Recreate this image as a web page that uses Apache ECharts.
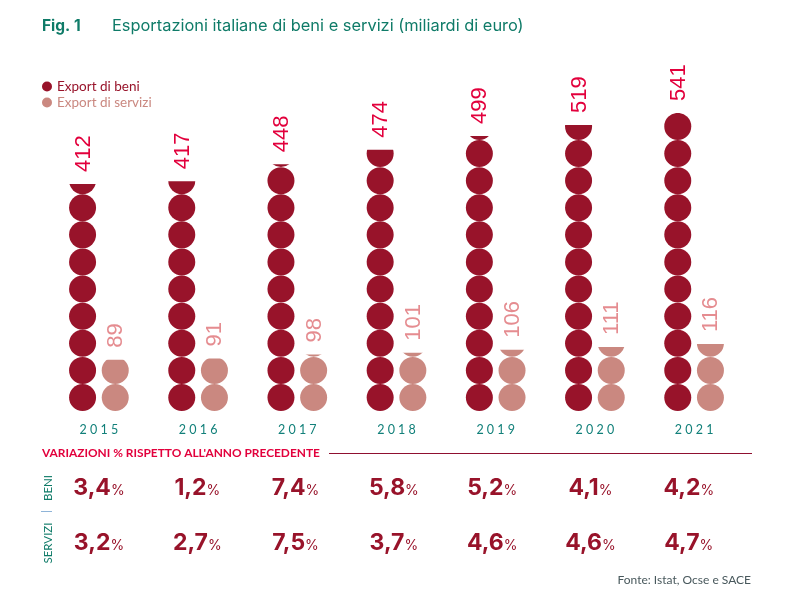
<!DOCTYPE html>
<html>
<head>
<meta charset="utf-8">
<title>Esportazioni italiane</title>
<script src="https://cdn.jsdelivr.net/npm/echarts@6/dist/echarts.min.js"></script>
<style>
  html, body { margin: 0; padding: 0; background: #fff; }
  #chart { width: 787px; height: 593px; }
</style>
</head>
<body>
<div id="chart"></div>
<script>
const years = ["2015", "2016", "2017", "2018", "2019", "2020", "2021"];
const exportBeni = [412, 417, 448, 474, 499, 519, 541];
const exportServizi = [89, 91, 98, 101, 106, 111, 116];
const rows = ["SERVIZI", "BENI"];
const varBeni = ["3,4", "1,2", "7,4", "5,8", "5,2", "4,1", "4,2"];
const varServizi = ["3,2", "2,7", "7,5", "3,7", "4,6", "4,6", "4,7"];

const DARK = "#98132a";
const PINK = "#ca8880";
const GREEN = "#0f7b68";
const RED = "#e2003c";
const FONT = "Lato";

// 11 circles fill the bounding value, the bar's value clips them
function circles(name, data, color, axisIndex, bounding) {
  return {
    name: name,
    type: "pictorialBar",
    yAxisIndex: axisIndex,
    xAxisIndex: 0,
    data: data,
    symbol: "circle",
    symbolSize: [27, 27],
    symbolRepeat: 11,
    symbolMargin: 0,
    symbolClip: true,
    symbolBoundingData: bounding,
    symbolPosition: "start",
    barWidth: 27,
    barGap: "21%",
    itemStyle: { color: color }
  };
}

// invisible bars on a twin x axis, only there to carry the value labels
function valueLabels(name, data, color, axisIndex) {
  return {
    name: name,
    type: "bar",
    yAxisIndex: axisIndex,
    xAxisIndex: 2,
    data: data,
    silent: true,
    barWidth: 27,
    barGap: "21%",
    itemStyle: { color: "transparent" },
    label: {
      show: true,
      position: "top",
      distance: 12,
      offset: [0, 1],
      rotate: 90,
      align: "left",
      verticalAlign: "middle",
      color: color,
      fontFamily: "Liberation Sans",
      fontSize: 22
    }
  };
}

function variation(name, values, row) {
  return {
    name: name,
    type: "scatter",
    xAxisIndex: 1,
    yAxisIndex: 2,
    symbolSize: 1,
    itemStyle: { color: "transparent", opacity: 1 },
    data: values.map((v, i) => [years[i], row, v]),
    silent: true,
    label: {
      show: true,
      position: "inside",
      formatter: p => "{n|" + p.data[2] + "}{p|%}",
      rich: {
        n: { fontFamily: "Inter", fontWeight: "bold", fontSize: 23, color: DARK },
        p: { fontFamily: "Inter", fontSize: 14, color: DARK, padding: [5, 0, 0, 0] }
      }
    }
  };
}

const chart = echarts.init(document.getElementById("chart"), null, { renderer: "canvas" });
chart.setOption({
  animation: false,
  backgroundColor: "#fff",
  title: [
    { text: "Fig. 1", left: 37, top: 13, textStyle: { fontFamily: "Inter", fontSize: 15.5, fontWeight: "bold", color: GREEN } },
    { text: "Esportazioni italiane di beni e servizi (miliardi di euro)", left: 107, top: 13, textStyle: { fontFamily: "Inter", fontSize: 16.4, fontWeight: "normal", color: GREEN } },
    { text: "VARIAZIONI % RISPETTO ALL'ANNO PRECEDENTE", left: 37, top: 442, textStyle: { fontFamily: FONT, fontSize: 11.9, fontWeight: "bold", color: RED } },
    { text: "Fonte: Istat, Ocse e SACE", right: 31, top: 569, textStyle: { fontFamily: FONT, fontSize: 12, fontWeight: "normal", color: "#48585c" } }
  ],
  legend: {
    data: [
      { name: "Export di beni", textStyle: { color: DARK } },
      { name: "Export di servizi", textStyle: { color: PINK } }
    ],
    orient: "vertical",
    left: 37,
    top: 74.5,
    itemWidth: 10,
    itemHeight: 10,
    itemGap: 2,
    icon: "circle",
    selectedMode: false,
    textStyle: { fontFamily: FONT, fontSize: 13.5 }
  },
  grid: [
    { left: 49.3, width: 694.4, top: 80.4, height: 330.6 },
    { left: 49.85, width: 688.1, top: 460.5, height: 110 }
  ],
  xAxis: [
    {
      type: "category",
      data: years,
      gridIndex: 0,
      axisLine: { show: false },
      axisTick: { show: false },
      axisLabel: {
        margin: 12,
        color: "#12807a",
        fontFamily: FONT,
        fontSize: 12.5,
        formatter: v => v.split("").join(" ")
      }
    },
    { type: "category", data: years, gridIndex: 1, show: false },
    { type: "category", data: years, gridIndex: 0, show: false }
  ],
  yAxis: [
    { type: "value", gridIndex: 0, min: 0, max: 600, show: false },
    { type: "value", gridIndex: 0, min: 0, max: 573, show: false },
    {
      type: "category",
      data: rows,
      gridIndex: 1,
      axisLine: { show: false },
      axisTick: { show: false },
      axisLabel: { rotate: 90, margin: -4, color: GREEN, fontFamily: FONT, fontSize: 11.5 }
    }
  ],
  graphic: [
    { type: "line", shape: { x1: 329, y1: 453.5, x2: 752, y2: 453.5 }, style: { stroke: "#8f1030", lineWidth: 1 } },
    { type: "line", shape: { x1: 41, y1: 511.5, x2: 52, y2: 511.5 }, style: { stroke: "#8fb4d8", lineWidth: 1 } }
  ],
  series: [
    circles("Export di beni", exportBeni, DARK, 0, 541),
    circles("Export di servizi", exportServizi, PINK, 1, 516.5),
    valueLabels("Etichette beni", exportBeni, RED, 0),
    valueLabels("Etichette servizi", exportServizi, "#e58c90", 1),
    variation("Beni var", varBeni, "BENI"),
    variation("Servizi var", varServizi, "SERVIZI")
  ]
});
</script>
</body>
</html>
